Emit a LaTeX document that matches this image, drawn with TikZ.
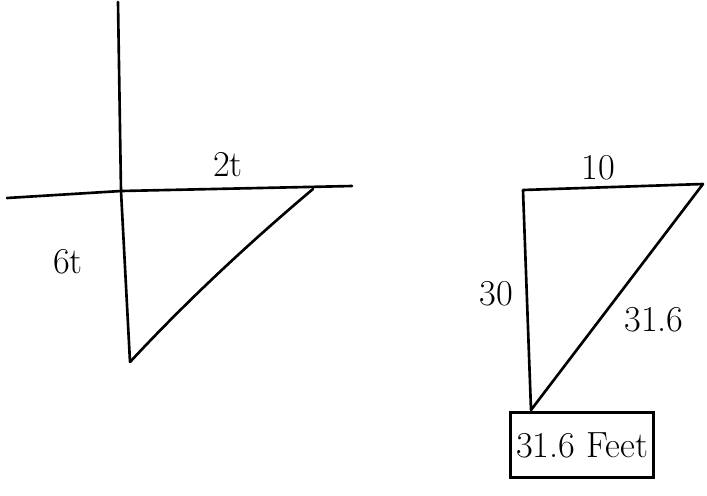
\documentclass[tikz,border=0pt]{standalone}
\usepackage{tikz}
\usetikzlibrary{positioning,calc}

\begin{document}
\begin{tikzpicture}[
  x=0.02cm, y=-0.02cm,
  stroke/.style={line width=1.5pt, line join=round, line cap=round},
  label/.style={font=\huge, inner sep=1pt},
  answer/.style={draw, line width=1.5pt, minimum width=2.8cm, minimum height=1.3cm, font=\huge}
]
\useasboundingbox (0,0) rectangle (707,495);

% Axes (left sketch)
\coordinate (ytop) at (118,2);
\coordinate (o) at (121,191);
\coordinate (xleft) at (7,198);
\coordinate (xright) at (352,186);
\coordinate (a) at (313,189);
\coordinate (b) at (130,362);

\draw[stroke] (ytop) -- (o) -- (b);
\draw[stroke] (xleft) -- (o) -- (xright);
\draw[stroke] (a) .. controls (262,232) and (195,292) .. (b);

\node[label] (lx) at (228,165) {2t};
\node[label] (ly) at (68,262) {6t};

% Right triangle
\coordinate (p) at (523,190);
\coordinate (q) at (703,184);
\coordinate (r) at (531,410);

\draw[stroke] (p) -- (q) -- (r) -- cycle;

\node[label] (l10) at (598,168) {10};
\node[label] (l30) at (496,294) {30};
\node[label] (l31) at (654,320) {31.6};

% Answer box
\node[answer] (ans) at (582,445) {31.6 Feet};

\end{tikzpicture}
\end{document}
